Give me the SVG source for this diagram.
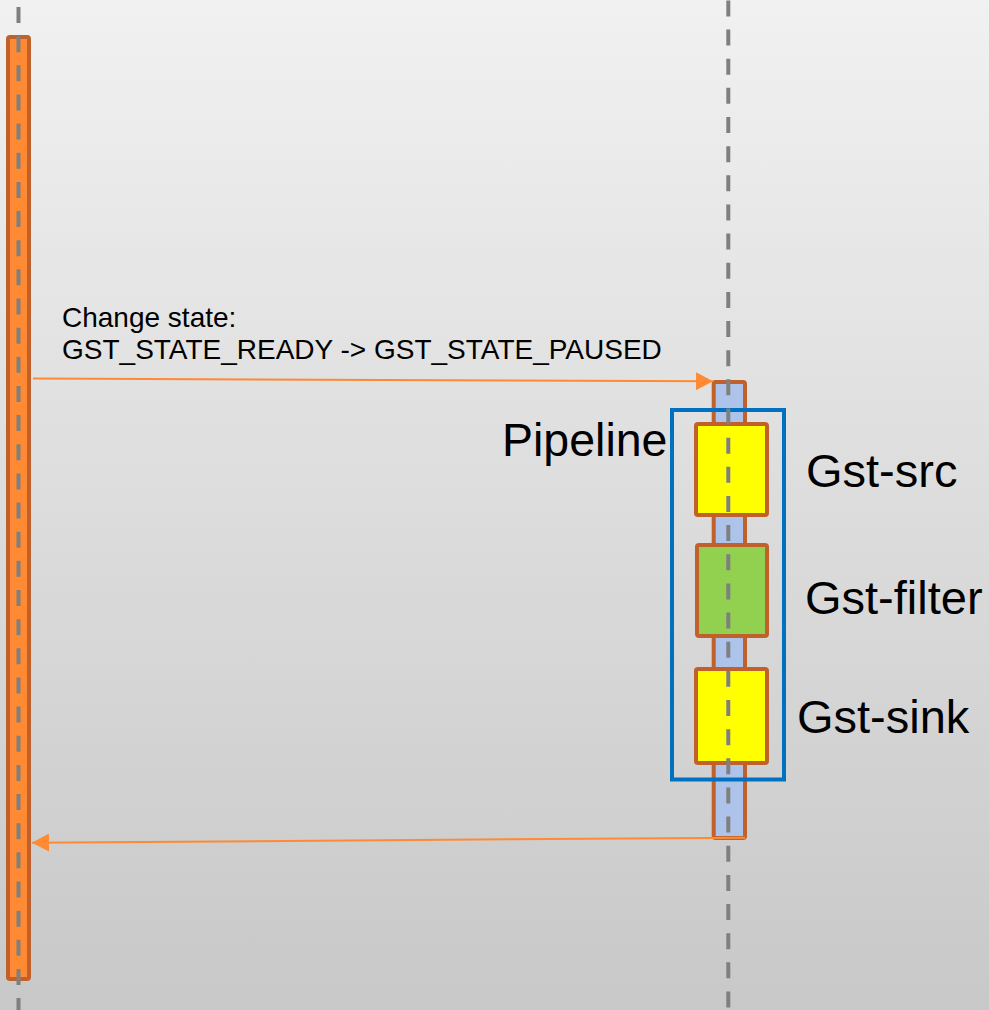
<svg xmlns="http://www.w3.org/2000/svg" width="989" height="1010" viewBox="0 0 989 1010">
  <style>
    .lifeline { stroke: #7f7f7f; stroke-width: 4; stroke-dasharray: 16 13.15; fill: none; }
    .bar { stroke: #c0612b; stroke-width: 4; }
    .elem { stroke: #c0612b; stroke-width: 4; }
    .msg { stroke: #ff8a33; stroke-width: 2; fill: none; }
    .label { font-family: "Liberation Sans", Arial, sans-serif; fill: #000; }
  </style>
  <defs>
    <linearGradient id="bg" x1="0" y1="0" x2="0" y2="1">
      <stop offset="0" stop-color="#f1f1f1"/>
      <stop offset="1" stop-color="#c8c8c8"/>
    </linearGradient>
    <marker id="arrow" markerUnits="userSpaceOnUse" markerWidth="18" markerHeight="18" viewBox="0 0 16 17" refX="16" refY="8.5" orient="auto">
      <path d="M0,0 L16,8.5 L0,17 Z" fill="#ff8a33"/>
    </marker>
  </defs>

  <rect x="0" y="0" width="989" height="1010" fill="url(#bg)"/>

  <!-- activation bars -->
  <g id="app-activation">
    <rect class="bar" x="8" y="37" width="21" height="942" rx="2" fill="#ff8a33"/>
  </g>
  <g id="pipeline-activation">
    <rect class="bar" x="713.7" y="382" width="31.3" height="456" rx="2" fill="#adc3ea"/>
  </g>

  <!-- pipeline container -->
  <g id="pipeline">
    <rect x="672" y="410" width="112" height="369.5" fill="none" stroke="#0070c0" stroke-width="4"/>
    <text class="label" x="502" y="455.5" font-size="46.5">Pipeline</text>
  </g>

  <!-- pipeline elements -->
  <g id="gst-src">
    <rect class="elem" x="696" y="424" width="71" height="91" rx="2" fill="#ffff00"/>
    <text class="label" x="806" y="487" font-size="47">Gst-src</text>
  </g>
  <g id="gst-filter">
    <rect class="elem" x="697" y="545" width="70" height="91" rx="2" fill="#92d050"/>
    <text class="label" x="805" y="614" font-size="47">Gst-filter</text>
  </g>
  <g id="gst-sink">
    <rect class="elem" x="696" y="669" width="71" height="94" rx="2" fill="#ffff00"/>
    <text class="label" x="797" y="733" font-size="47">Gst-sink</text>
  </g>

  <!-- lifelines -->
  <g id="lifelines">
    <line class="lifeline" x1="18.5" y1="7" x2="18.5" y2="1010"/>
    <line class="lifeline" x1="728.3" y1="0.4" x2="728.3" y2="1010"/>
  </g>

  <!-- messages -->
  <g id="connectors">
    <line class="msg" x1="33" y1="378.5" x2="713" y2="381.3" marker-end="url(#arrow)"/>
    <line class="msg" x1="745" y1="837.7" x2="32" y2="842.7" marker-end="url(#arrow)"/>
  </g>

  <g id="message-label">
    <text class="label" x="62" y="326.5" font-size="28">Change state:</text>
    <text class="label" x="62" y="359.3" font-size="28">GST_STATE_READY -&gt; GST_STATE_PAUSED</text>
  </g>
</svg>
